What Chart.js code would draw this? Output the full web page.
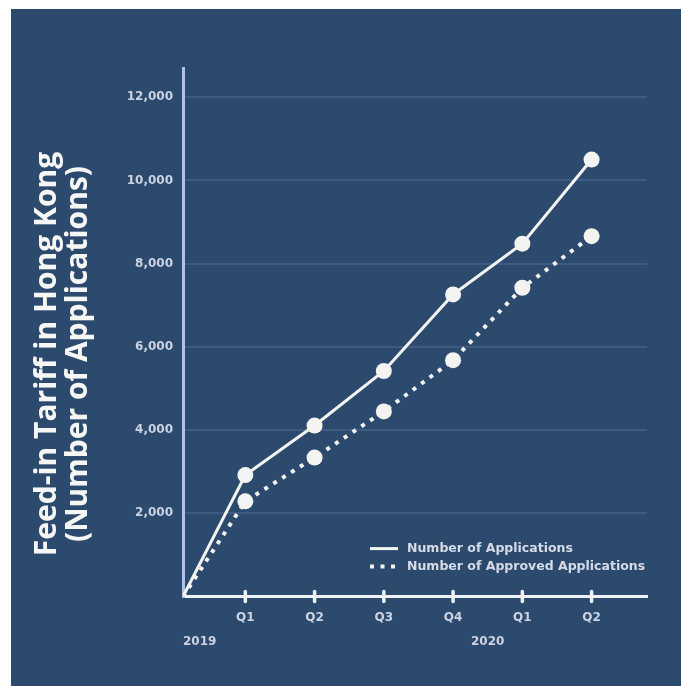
<!DOCTYPE html>
<html>
<head>
<meta charset="utf-8">
<script src="https://cdn.jsdelivr.net/npm/chart.js@4.4.1/dist/chart.umd.min.js"></script>
<style>
  html, body { margin: 0; padding: 0; background: #ffffff; }
  #wrap { width: 681px; height: 686px; }
  canvas { display: block; }
</style>
</head>
<body>
<div id="wrap"><canvas id="chart" width="681" height="686"></canvas></div>
<script>
// Quarterly Feed-in Tariff applications in Hong Kong, counted cumulatively.
// Timeline runs in quarters: the opening point marks the start of 2019.
const periods = ['Start', 'Q1 2019', 'Q2 2019', 'Q3 2019', 'Q4 2019', 'Q1 2020', 'Q2 2020'];
const timeline = [0.1, 1, 2, 3, 4, 5, 6];
const applications = [0, 2920, 4110, 5420, 7260, 8480, 10500];
const approved = [0, 2290, 3340, 4450, 5680, 7420, 8660];

const quarterTicks = [1, 2, 3, 4, 5, 6];
const quarterLabels = ['Q1', 'Q2', 'Q3', 'Q4', 'Q1', 'Q2'];
const yearLabels = ['2019', '2020'];
const yearAnchors = [0.1, 4.5];
const valueTicks = [2000, 4000, 6000, 8000, 10000, 12000];

const titleLines = ['Feed-in Tariff in Hong Kong', '(Number of Applications)'];
const seriesNames = ['Number of Applications', 'Number of Approved Applications'];

const PANEL = '#2c4a6e';
const LINE = '#f3f3f1';
const TICK_TEXT = '#cdd3e2';
const LABEL_FONT = "bold 12px 'DejaVu Sans'";
const LEGEND_FONT = "bold 12.5px 'DejaVu Sans'";

const toPoints = vals => vals.map((v, i) => ({ x: timeline[i], y: v }));
const markerSizes = vals => vals.map((v, i) => (i === 0 ? 0 : 8));

// Dark panel behind the whole chart
const panelPlugin = {
  id: 'panel',
  beforeDraw(chart) {
    const { ctx, width, height } = chart;
    ctx.save();
    ctx.fillStyle = '#ffffff';
    ctx.fillRect(0, 0, width, height);
    ctx.fillStyle = PANEL;
    ctx.fillRect(11, 9, width - 11, height - 9);
    ctx.restore();
  }
};

// Rotated two-line axis title, year captions, tick marks and the legend
const decorPlugin = {
  id: 'decor',
  afterDraw(chart) {
    const { ctx, chartArea } = chart;
    const xs = chart.scales.x;

    // tick marks crossing the x axis
    ctx.save();
    ctx.strokeStyle = '#eef1f6';
    ctx.lineWidth = 3.5;
    ctx.lineCap = 'round';
    quarterTicks.forEach(v => {
      const px = xs.getPixelForValue(v);
      ctx.beginPath();
      ctx.moveTo(px, chartArea.bottom - 5);
      ctx.lineTo(px, chartArea.bottom + 5);
      ctx.stroke();
    });
    ctx.restore();

    // year captions below the quarter labels
    ctx.save();
    ctx.font = LABEL_FONT;
    ctx.fillStyle = TICK_TEXT;
    ctx.textBaseline = 'middle';
    yearLabels.forEach((t, i) => {
      ctx.textAlign = i === 0 ? 'left' : 'center';
      ctx.fillText(t, xs.getPixelForValue(yearAnchors[i]), chartArea.bottom + 45);
    });
    ctx.restore();

    // axis title, rotated
    ctx.save();
    ctx.translate(0, 354);
    ctx.rotate(-Math.PI / 2);
    ctx.font = "bold 30px 'Open Sans'";
    ctx.fillStyle = '#f6f6f4';
    ctx.textAlign = 'center';
    ctx.textBaseline = 'middle';
    ctx.fillText(titleLines[0], 0, 47);
    ctx.fillText(titleLines[1], 0, 78);
    ctx.restore();

    // legend in the lower right of the plot
    const lx = chartArea.right - 277;
    const ly = chartArea.bottom - 48;
    ctx.save();
    chart.data.datasets.forEach((ds, i) => {
      const y = ly + i * 18;
      ctx.strokeStyle = ds.borderColor;
      ctx.lineWidth = ds.borderWidth;
      ctx.setLineDash(ds.borderDash || []);
      ctx.beginPath();
      ctx.moveTo(lx, y);
      ctx.lineTo(lx + 28, y);
      ctx.stroke();
      ctx.setLineDash([]);
      ctx.font = LEGEND_FONT;
      ctx.fillStyle = '#d6dbe7';
      ctx.textAlign = 'left';
      ctx.textBaseline = 'middle';
      ctx.fillText(ds.label, lx + 37, y);
    });
    ctx.restore();
  }
};

new Chart(document.getElementById('chart'), {
  type: 'line',
  data: {
    datasets: [
      {
        label: seriesNames[0],
        data: toPoints(applications),
        borderColor: LINE,
        borderWidth: 3,
        pointRadius: markerSizes(applications),
        pointBackgroundColor: LINE,
        pointBorderWidth: 0,
        tension: 0
      },
      {
        label: seriesNames[1],
        data: toPoints(approved),
        borderColor: LINE,
        borderWidth: 4,
        borderDash: [4, 6.5],
        pointRadius: markerSizes(approved),
        pointBackgroundColor: LINE,
        pointBorderWidth: 0,
        tension: 0
      }
    ]
  },
  options: {
    responsive: false,
    animation: false,
    devicePixelRatio: 1,
    layout: { padding: { top: 68, right: 34, bottom: 47, left: 0 } },
    plugins: {
      legend: { display: false },
      tooltip: { enabled: false }
    },
    scales: {
      x: {
        type: 'linear',
        min: timeline[0],
        max: 6.8,
        afterBuildTicks: s => { s.ticks = quarterTicks.map(v => ({ value: v })); },
        ticks: {
          callback: (v, i) => quarterLabels[i],
          font: { family: 'DejaVu Sans', size: 12, weight: 'bold' },
          color: TICK_TEXT,
          padding: 14,
          maxRotation: 0,
          autoSkip: false
        },
        grid: { display: false, drawTicks: false },
        border: { display: true, color: '#eef1f6', width: 3 }
      },
      y: {
        min: 0,
        max: 12700,
        afterBuildTicks: s => { s.ticks = valueTicks.map(v => ({ value: v })); },
        afterFit: s => { s.width = 183; },
        ticks: {
          callback: v => v.toLocaleString('en-US'),
          font: { family: 'DejaVu Sans', size: 12, weight: 'bold' },
          color: TICK_TEXT,
          padding: 10
        },
        grid: { color: 'rgba(120,150,200,0.24)', lineWidth: 2, drawTicks: false },
        border: { display: true, color: '#b3bfe6', width: 3 }
      }
    }
  },
  plugins: [panelPlugin, decorPlugin]
});
</script>
</body>
</html>
